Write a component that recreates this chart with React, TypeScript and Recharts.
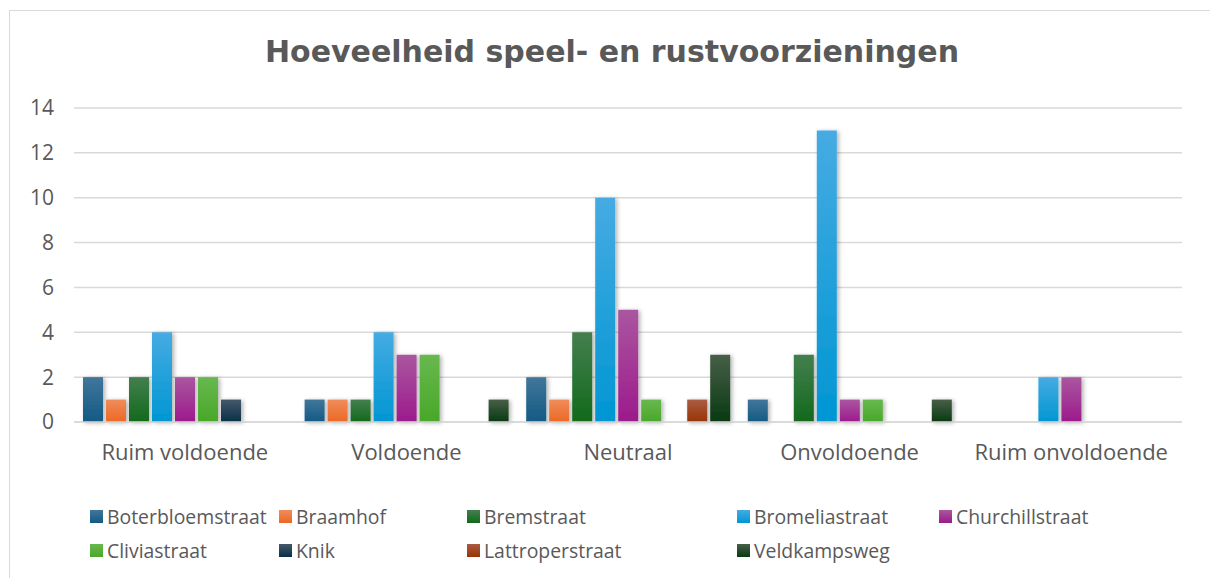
import React from 'react';
import { BarChart, Bar, XAxis, YAxis, CartesianGrid, Legend } from 'recharts';

const categories = ['Ruim voldoende', 'Voldoende', 'Neutraal', 'Onvoldoende', 'Ruim onvoldoende'];
const seriesNames = [
  'Boterbloemstraat', 'Braamhof', 'Bremstraat', 'Bromeliastraat', 'Churchillstraat',
  'Cliviastraat', 'Knik', 'Lattroperstraat', 'Veldkampsweg',
];
const boterbloemstraat = [2, 1, 2, 1, 0];
const braamhof = [1, 1, 1, 0, 0];
const bremstraat = [2, 1, 4, 3, 0];
const bromeliastraat = [4, 4, 10, 13, 2];
const churchillstraat = [2, 3, 5, 1, 2];
const cliviastraat = [2, 3, 1, 1, 0];
const knik = [1, 0, 0, 0, 0];
const lattroperstraat = [0, 0, 1, 0, 0];
const veldkampsweg = [0, 1, 3, 1, 0];
const yTicks = [0, 2, 4, 6, 8, 10, 12, 14];

const seriesValues = [
  boterbloemstraat, braamhof, bremstraat, bromeliastraat, churchillstraat,
  cliviastraat, knik, lattroperstraat, veldkampsweg,
];

// [top, bottom] of each bar gradient
const gradients = [
  ['#42769a', '#125a84'],
  ['#f08c5c', '#ec6822'],
  ['#437f4e', '#12691c'],
  ['#46abe2', '#0096d3'],
  ['#aa56a0', '#9c1a8c'],
  ['#68b84e', '#48a828'],
  ['#44596a', '#083047'],
  ['#aa5c42', '#983404'],
  ['#485f48', '#083912'],
];

const data = categories.map((name, i) => {
  const row: Record<string, string | number> = { name };
  seriesNames.forEach((s, j) => {
    row[s] = seriesValues[j][i];
  });
  return row;
});

const FONT = '"Open Sans", sans-serif';
const legendCols = [189, 188, 270, 202, 240];

const renderLegend = () => {
  const rows = [seriesNames.slice(0, 5), seriesNames.slice(5)];
  return (
    <div style={{ fontFamily: FONT, fontSize: 19.4, color: '#595959' }}>
      {rows.map((row, r) => (
        <div key={r} style={{ display: 'flex', height: 34, alignItems: 'center' }}>
          {row.map((name, c) => {
            const idx = r * 5 + c;
            const [top, bottom] = gradients[idx];
            return (
              <div key={name} style={{ width: legendCols[c], display: 'flex', alignItems: 'center' }}>
                <span
                  style={{
                    width: 13,
                    height: 13,
                    marginRight: 4,
                    background: `linear-gradient(${top}, ${bottom})`,
                    display: 'inline-block',
                  }}
                />
                <span>{name}</span>
              </div>
            );
          })}
        </div>
      ))}
    </div>
  );
};

export default function App() {
  return (
    <div style={{ position: 'relative', width: 1210, height: 578, overflow: 'hidden' }}>
      <style>{'body{margin:0;overflow:hidden}'}</style>
      <div
        style={{
          position: 'absolute',
          left: 9,
          top: 10,
          width: 1210,
          height: 580,
          border: '1px solid #d9d9d9',
          background: '#fff',
        }}
      >
        <div
          style={{
            position: 'absolute',
            left: 0,
            width: 1204,
            top: 24,
            lineHeight: '34px',
            textAlign: 'center',
            fontFamily: '"DejaVu Sans", sans-serif',
            fontWeight: 700,
            fontSize: 30,
            color: '#595959',
          }}
        >
          Hoeveelheid speel- en rustvoorzieningen
        </div>
        <BarChart
          width={1200}
          height={565}
          data={data}
          margin={{ top: 97, right: 28, left: 0, bottom: 0 }}
          barGap={3}
          barSize={20}
        >
          <defs>
            {gradients.map(([top, bottom], i) => (
              <linearGradient key={i} id={`g${i}`} x1="0" y1="0" x2="0" y2="1">
                <stop offset="0%" stopColor={top} />
                <stop offset="100%" stopColor={bottom} />
              </linearGradient>
            ))}
            <filter id="shadow" x="-30%" y="-10%" width="160%" height="130%">
              <feDropShadow dx="2" dy="1" stdDeviation="2" floodColor="#000" floodOpacity="0.3" />
            </filter>
          </defs>
          <CartesianGrid vertical={false} stroke="#d9d9d9" strokeWidth={1.5} />
          <XAxis
            dataKey="name"
            axisLine={{ stroke: '#d9d9d9', strokeWidth: 1.5 }}
            tickLine={false}
            tickMargin={16}
            height={86}
            tick={{ fill: '#595959', fontSize: 22, fontFamily: FONT }}
          />
          <YAxis
            width={64}
            domain={[0, 14]}
            ticks={yTicks}
            axisLine={false}
            tickLine={false}
            tickMargin={14}
            tick={{ fill: '#595959', fontSize: 21, fontFamily: FONT }}
          />
          <Legend
            content={renderLegend}
            verticalAlign="bottom"
            wrapperStyle={{ left: 80, width: 1120, bottom: 9 }}
          />
          {seriesNames.map((s, i) => (
            <Bar
              key={s}
              dataKey={s}
              fill={`url(#g${i})`}
              filter="url(#shadow)"
              isAnimationActive={false}
            />
          ))}
        </BarChart>
      </div>
    </div>
  );
}
